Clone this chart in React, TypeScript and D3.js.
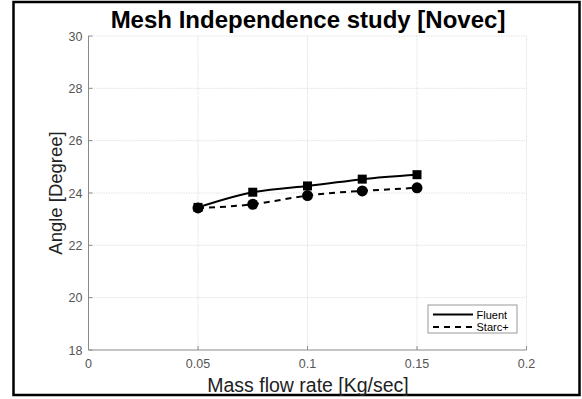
import React from "react";
import * as d3 from "d3";

const massFlow = [0.05, 0.075, 0.1, 0.125, 0.15];
const fluent = [23.45, 24.03, 24.27, 24.53, 24.7];
const starc = [23.43, 23.57, 23.9, 24.08, 24.2];
const xTicks = [0, 0.05, 0.1, 0.15, 0.2];
const yTicks = [18, 20, 22, 24, 26, 28, 30];
const seriesNames = ["Fluent", "Starc+"];

const W = 582;
const H = 399;
const L = 88.5;
const R = 526.5;
const T = 36;
const B = 350;

export default function App() {
  const x = d3.scaleLinear().domain([0, 0.2]).range([L, R]);
  const y = d3.scaleLinear().domain([18, 30]).range([B, T]);
  const line = d3
    .line<number>()
    .x((_, i) => x(massFlow[i]))
    .y((d) => y(d))
    .curve(d3.curveNatural);
  const font = "Liberation Sans, Arial, Helvetica, sans-serif";
  const axisColor = "#8a8a8a";
  const tickText = "#555";
  const gridColor = "#e2e2e2";
  return (
    <svg
      width={W}
      height={H}
      style={{ position: "absolute", left: 0, top: 0, background: "#fff" }}
      fontFamily={font}
    >
      <rect x={0} y={0} width={W} height={H} fill="#fff" />
      <rect x={13.5} y={2} width={566} height={393} fill="none" stroke="#000" strokeWidth={2.5} />
      {/* grid */}
      {xTicks.slice(1).map((t) => (
        <line key={"gx" + t} x1={x(t)} x2={x(t)} y1={T} y2={B} stroke={gridColor} strokeWidth={1} strokeDasharray="1.5,1" />
      ))}
      {yTicks.slice(1).map((t) => (
        <line key={"gy" + t} x1={L} x2={R} y1={y(t)} y2={y(t)} stroke={gridColor} strokeWidth={1} strokeDasharray="1.5,1" />
      ))}
      {/* axes */}
      <line x1={L} x2={L} y1={T} y2={B} stroke={axisColor} strokeWidth={1} />
      <line x1={L} x2={R} y1={B} y2={B} stroke={axisColor} strokeWidth={1} />
      {xTicks.map((t) => (
        <g key={"xt" + t}>
          <line x1={x(t)} x2={x(t)} y1={B} y2={B - 4} stroke={axisColor} />
          <text x={x(t)} y={B + 18} textAnchor="middle" fontSize={12.5} fill={tickText}>
            {String(t)}
          </text>
        </g>
      ))}
      {yTicks.map((t) => (
        <g key={"yt" + t}>
          <line x1={L} x2={L + 4} y1={y(t)} y2={y(t)} stroke={axisColor} />
          <text x={L - 6} y={y(t) + 4.5} textAnchor="end" fontSize={12.5} fill={tickText}>
            {t}
          </text>
        </g>
      ))}
      {/* labels */}
      <text x={308} y={28} textAnchor="middle" fontSize={24} fontWeight="bold" fill="#000">
        Mesh Independence study [Novec]
      </text>
      <text x={308} y={391.5} textAnchor="middle" fontSize={19.5} fill="#222">
        Mass flow rate [Kg/sec]
      </text>
      <text
        transform={`translate(62, ${(T + B) / 2 + 0}) rotate(-90)`}
        textAnchor="middle"
        fontSize={18.5}
        fill="#222"
      >
        Angle [Degree]
      </text>
      {/* series */}
      <path d={line(fluent) || ""} fill="none" stroke="#000" strokeWidth={2} />
      <path d={line(starc) || ""} fill="none" stroke="#000" strokeWidth={2} strokeDasharray="6,5" />
      {fluent.map((v, i) => (
        <rect key={"s" + i} x={x(massFlow[i]) - 4.5} y={y(v) - 4.5} width={9} height={9} fill="#000" />
      ))}
      {starc.map((v, i) => (
        <circle key={"c" + i} cx={x(massFlow[i])} cy={y(v)} r={5.5} fill="#000" />
      ))}
      {/* legend */}
      <rect x={428} y={305} width={89} height={28} fill="#fff" stroke="#999" strokeWidth={1} />
      <line x1={433} x2={473} y1={314.5} y2={314.5} stroke="#000" strokeWidth={2} />
      <text x={476.5} y={318.5} fontSize={11} fill="#000">{seriesNames[0]}</text>
      <line x1={433} x2={473} y1={327} y2={327} stroke="#000" strokeWidth={2} strokeDasharray="6,5" />
      <text x={476.5} y={331} fontSize={11} fill="#000">{seriesNames[1]}</text>
    </svg>
  );
}
